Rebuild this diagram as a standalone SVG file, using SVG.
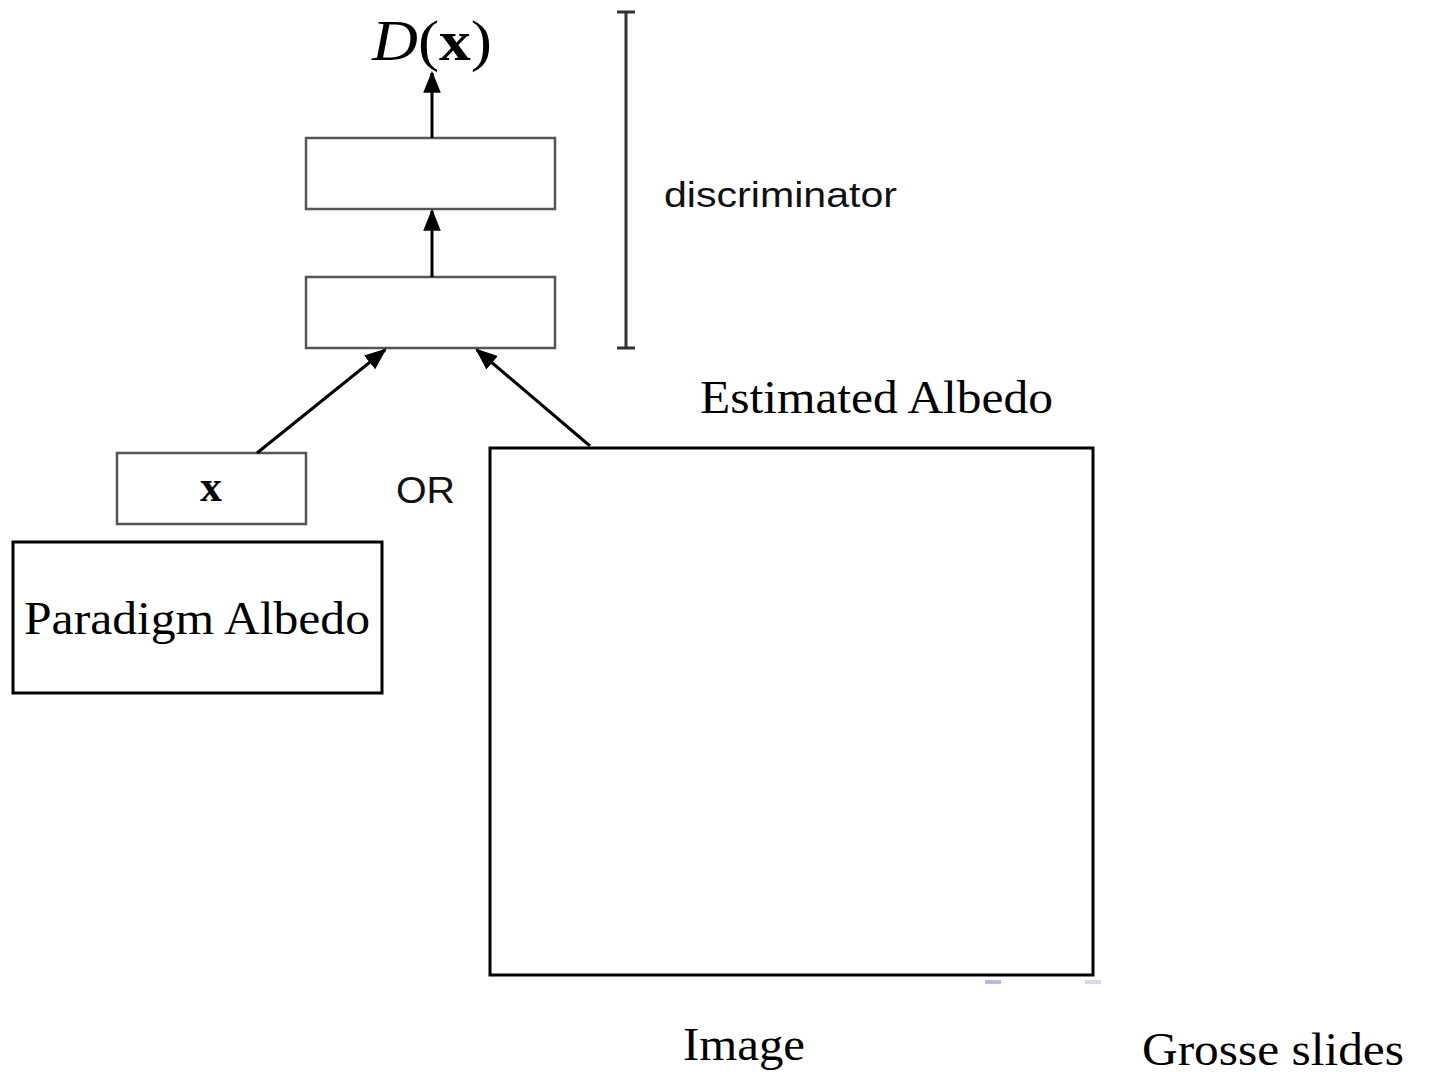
<svg xmlns="http://www.w3.org/2000/svg" width="1429" height="1074" viewBox="0 0 1429 1074">
<style>
.gbox{fill:#fff;stroke:#555;stroke-width:2.5}
.bbox{fill:#fff;stroke:#000;stroke-width:3}
.conn{stroke:#000;stroke-width:3;fill:none}
.sans{font-family:"Liberation Sans",Arial,sans-serif;fill:#111}
.serif{font-family:"Liberation Serif","Times New Roman",serif;fill:#000}
</style>
<defs>
<marker id="ah2" viewBox="0 0 10 10" refX="9" refY="5" markerWidth="22" markerHeight="22" markerUnits="userSpaceOnUse" orient="auto">
<path d="M0,1 L10,5 L0,9 z" fill="#000"/>
</marker>
</defs>
<rect width="1429" height="1074" fill="#fff"/>
<g id="dx-label"><text class="serif" x="372" y="60" font-size="56" textLength="120" lengthAdjust="spacingAndGlyphs"><tspan font-style="italic">D</tspan>(<tspan font-weight="bold">x</tspan>)</text></g>
<g id="layer2"><rect class="gbox" x="306" y="138" width="249" height="71"/></g>
<g id="layer1"><rect class="gbox" x="306" y="277" width="249" height="71"/></g>
<g id="x-input"><rect class="gbox" x="117" y="453" width="189" height="71"/><text class="serif" x="211" y="501" font-size="44" font-weight="bold" text-anchor="middle">x</text></g>
<g id="bracket"><path d="M626,12 V348 M617,12 H635 M617,348 H635" stroke="#333" stroke-width="3" fill="none"/><text class="sans" x="664" y="207" font-size="35" textLength="233" lengthAdjust="spacingAndGlyphs">discriminator</text></g>
<g id="or-label"><text class="sans" x="396" y="503" font-size="36" textLength="59" lengthAdjust="spacingAndGlyphs">OR</text></g>
<g id="paradigm"><rect class="bbox" x="13" y="542" width="369" height="151"/><text class="serif" x="24" y="634" font-size="46" textLength="346" lengthAdjust="spacingAndGlyphs">Paradigm Albedo</text></g>
<g id="estimated"><rect class="bbox" x="490" y="448" width="603" height="527"/><text class="serif" x="700" y="413" font-size="46" textLength="353" lengthAdjust="spacingAndGlyphs">Estimated Albedo</text></g>
<g id="connectors">
<line class="conn" x1="432" y1="138" x2="432" y2="73" marker-end="url(#ah2)"/>
<line class="conn" x1="432" y1="277" x2="432" y2="211" marker-end="url(#ah2)"/>
<line class="conn" x1="257" y1="453" x2="385" y2="350" marker-end="url(#ah2)"/>
<line class="conn" x1="590" y1="446" x2="477" y2="350" marker-end="url(#ah2)"/>
</g>
<rect x="985" y="980" width="16" height="4" fill="#b8b8e0"/>
<rect x="1085" y="980" width="16" height="4" fill="#d8d8f0"/>
<text class="serif" x="683" y="1060" font-size="46" textLength="122" lengthAdjust="spacingAndGlyphs">Image</text>
<text class="serif" x="1142" y="1065" font-size="46" textLength="262" lengthAdjust="spacingAndGlyphs">Grosse slides</text>
</svg>
